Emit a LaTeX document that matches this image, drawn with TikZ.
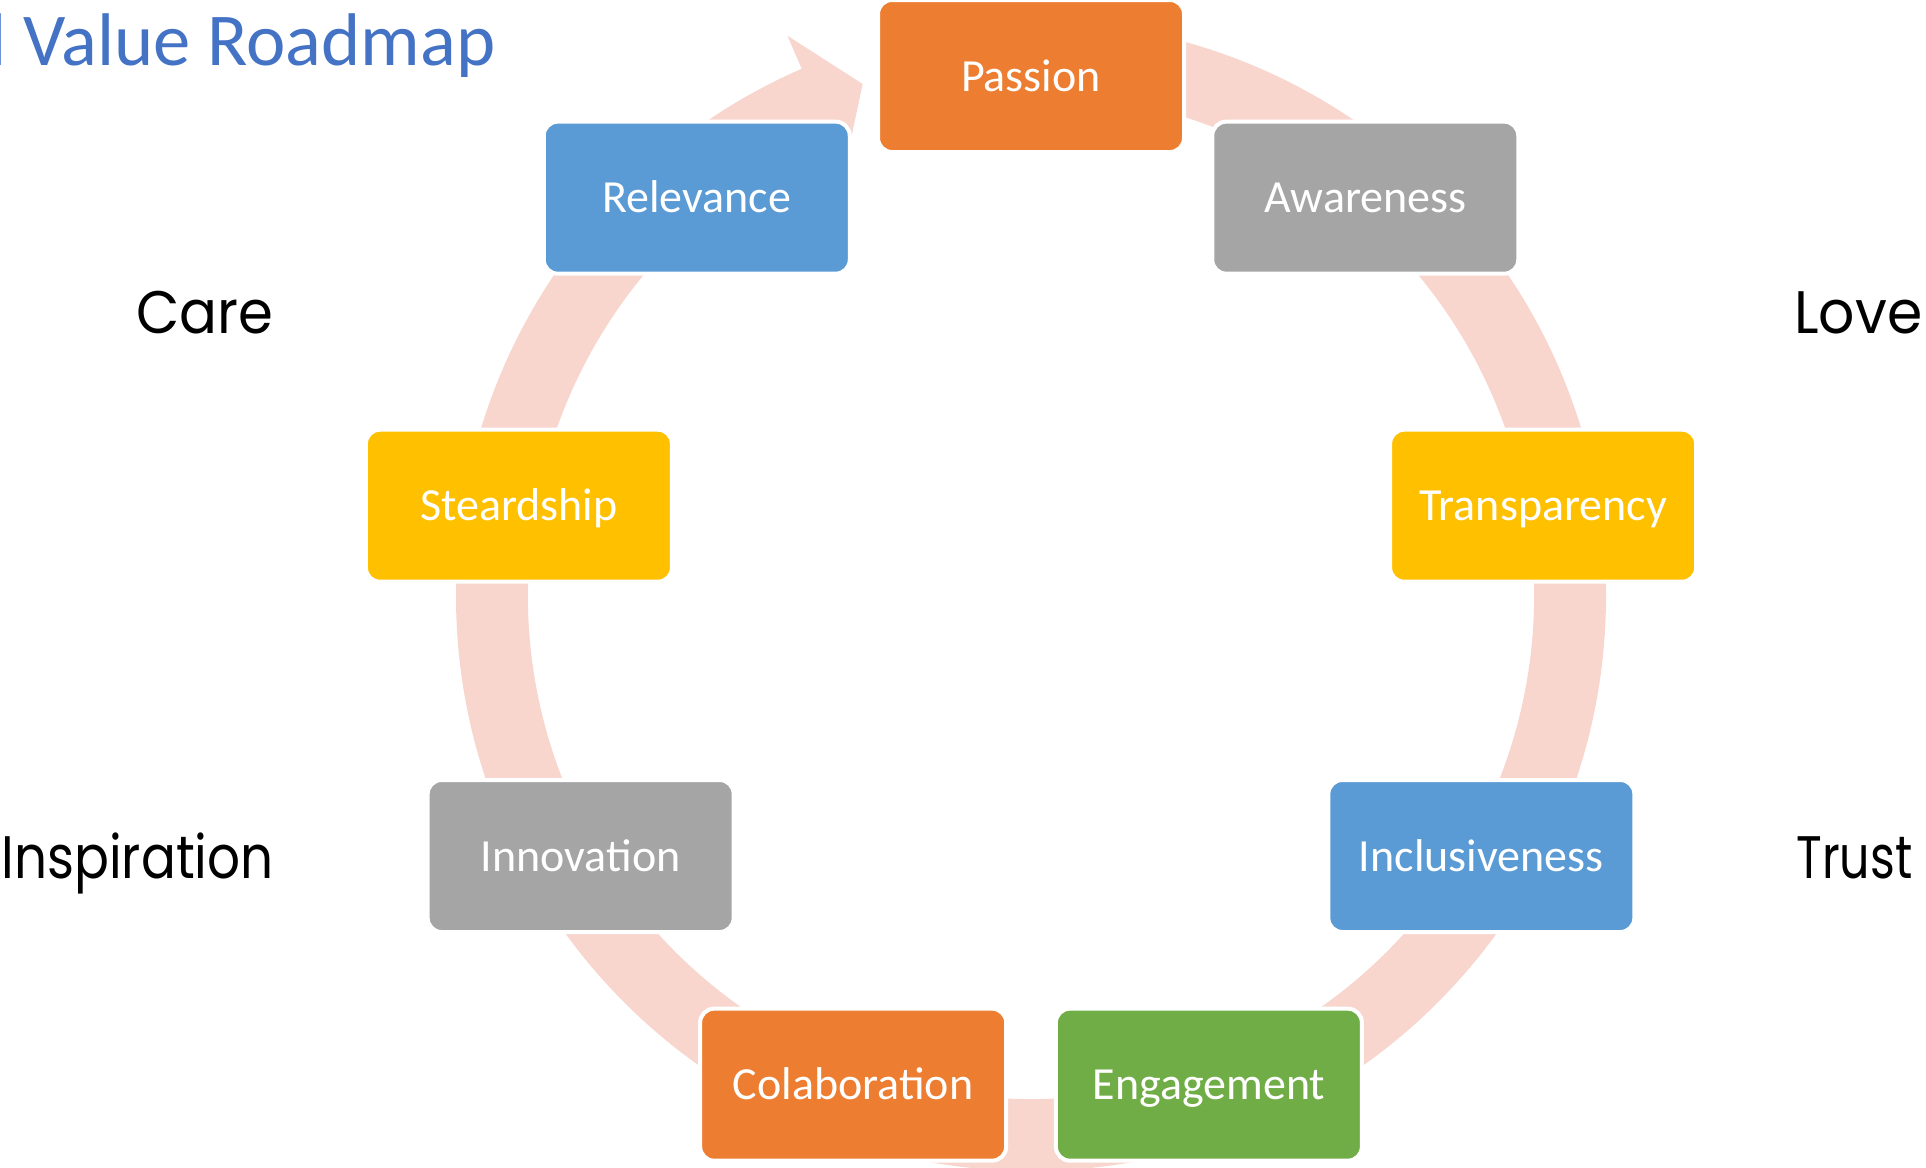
\documentclass[tikz,border=0pt]{standalone}
\usepackage{fontspec}
\setmainfont{Carlito}
\newfontfamily\labelfont{Poppins}
\usetikzlibrary{calc}
\definecolor{bandpink}{RGB}{248,214,206}
\definecolor{orangeacc}{RGB}{237,125,49}
\definecolor{greyacc}{RGB}{165,165,165}
\definecolor{goldacc}{RGB}{255,192,0}
\definecolor{blueacc}{RGB}{91,155,213}
\definecolor{greenacc}{RGB}{112,173,71}
\definecolor{titleblue}{RGB}{68,114,196}
% set a word to a given width, keeping its height
\newcommand{\widthto}[2]{\resizebox{#1}{\height}{#2}}
\begin{document}
\begin{tikzpicture}[x=0.5pt,y=-0.5pt,
  stage/.style={rectangle, rounded corners=7pt, draw=white, line width=2pt,
    minimum width=153pt, minimum height=76pt, inner sep=0pt,
    text height=15pt, text depth=0pt, text=white,
    font=\fontsize{23}{27}\selectfont},
  theme/.style={inner sep=0pt, text=black, font=\labelfont\fontsize{30}{36}\selectfont}]
\useasboundingbox (0,0) rectangle (1926,1167);
\coordinate (c) at (1031,596);

% circular arrow running clockwise from the top back round to Passion
\fill[bandpink] ($(c)+(270:575)$) arc[start angle=270, end angle=606.5, radius=575]
  -- ($(c)+(606.5:611)$) -- ($(c)+(611.8:539)$) -- ($(c)+(606.5:467)$)
  -- ($(c)+(606.5:503)$) arc[start angle=606.5, end angle=270, radius=503] -- cycle;

% stages of the cycle
\node[stage, fill=orangeacc] (passion)       at ($(c)+(270:520)$) {Passion};
\node[stage, fill=greyacc]   (awareness)     at ($(c)+(310:520)$) {Awareness};
\node[stage, fill=goldacc]   (transparency)  at ($(c)+(350:520)$) {Transparency};
\node[stage, fill=blueacc]   (inclusiveness) at ($(c)+(30:520)$)  {Inclusiveness};
\node[stage, fill=greenacc]  (engagement)    at ($(c)+(70:520)$)  {Engagement};
\node[stage, fill=orangeacc] (colaboration)  at ($(c)+(110:520)$) {Colaboration};
\node[stage, fill=greyacc]   (innovation)    at ($(c)+(150:520)$) {Innovation};
\node[stage, fill=goldacc]   (steardship)    at ($(c)+(190:520)$) {Steardship};
\node[stage, fill=blueacc]   (relevance)     at ($(c)+(230:520)$) {Relevance};

% values beside the cycle
\node[theme, anchor=base east] (care)        at (274,333)  {\widthto{68.5pt}{Care}};
\node[theme, anchor=base east] (inspiration) at (274,878)  {\widthto{136pt}{Inspiration}};
\node[theme, anchor=base west] (love)        at (1794,333) {\widthto{64pt}{Love}};
\node[theme, anchor=base west] (trust)       at (1796,878) {\widthto{58pt}{Trust}};

% heading
\node[anchor=base west, inner sep=0pt, text=titleblue,
  font=\fontsize{37.3}{44}\selectfont] (title) at (-11,65) {l Value Roadmap};
\end{tikzpicture}
\end{document}
